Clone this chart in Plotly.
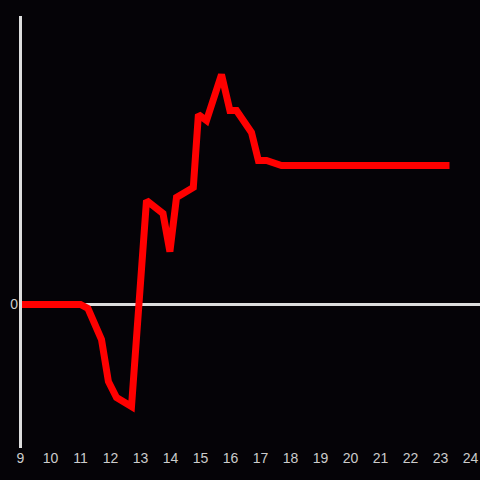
import plotly.graph_objects as go

hours = [9.0, 11.0, 11.25, 11.7, 11.93, 12.2, 12.7, 12.98, 13.2, 13.75, 13.98, 14.2,
         14.76, 14.93, 15.2, 15.7, 15.98, 16.2, 16.7, 16.93, 17.2, 17.7, 23.3]
values = [0.0, 0.0, -0.4, -3.5, -7.7, -9.3, -10.2, 2.4, 10.4, 9.1, 5.3, 10.7,
          11.7, 19.0, 18.4, 23.0, 19.4, 19.4, 17.2, 14.4, 14.4, 13.9, 13.9]
x_ticks = list(range(9, 25))

fig = go.Figure(go.Scatter(x=hours, y=values, mode="lines",
                           line=dict(color="#ff0000", width=7),
                           hoverinfo="skip"))
fig.update_layout(
    width=480, height=480,
    margin=dict(l=19, r=0, t=16, b=32),
    paper_bgcolor="#050307", plot_bgcolor="#050307",
    showlegend=False,
    font=dict(family="Liberation Sans, Arial, sans-serif", size=14, color="#cccccc"),
    xaxis=dict(range=[8.95, 24.3167], tickvals=x_ticks, ticktext=[str(t) for t in x_ticks],
               showgrid=False, zeroline=False, showline=False, ticks="", ticklen=0,
               automargin=False),
    yaxis=dict(range=[-14.35, 28.85], tickvals=[0], ticktext=["0"],
               showgrid=False, zeroline=True, zerolinecolor="#dddddd", zerolinewidth=3,
               showline=False, ticks="", ticklen=0, automargin=False),
)
# vertical y-axis line at the start of the x-axis
fig.add_shape(type="line", xref="x", yref="paper", x0=x_ticks[0], x1=x_ticks[0], y0=0, y1=1,
              line=dict(color="#dddddd", width=3), layer="above")
fig.write_html("out.html", config={"displayModeBar": False},
               post_script="document.body.style.margin='0';document.body.style.background='#050307';")
